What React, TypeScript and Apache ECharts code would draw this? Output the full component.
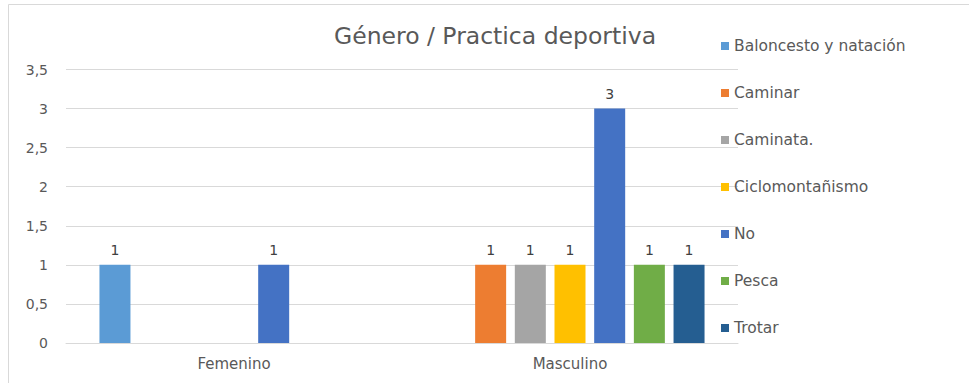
import React, { useEffect, useRef } from "react";
import * as echarts from "echarts";

const categories = ["Femenino", "Masculino"];
const seriesNames = [
  "Baloncesto y natación",
  "Caminar",
  "Caminata.",
  "Ciclomontañismo",
  "No",
  "Pesca",
  "Trotar",
];
const baloncesto = [1, null];
const caminar = [null, 1];
const caminata = [null, 1];
const ciclomontanismo = [null, 1];
const no = [1, 3];
const pesca = [null, 1];
const trotar = [null, 1];
const seriesValues = [baloncesto, caminar, caminata, ciclomontanismo, no, pesca, trotar];
const colors = ["#5B9BD5", "#ED7D31", "#A5A5A5", "#FFC000", "#4472C4", "#70AD47", "#255E91"];
const yTicks = [0, 0.5, 1, 1.5, 2, 2.5, 3, 3.5];

const FONT = "'DejaVu Sans', 'Open Sans', sans-serif";

export default function App() {
  const ref = useRef<HTMLDivElement>(null);
  useEffect(() => {
    if (!ref.current) return;
    const chart = echarts.init(ref.current, undefined, { renderer: "svg" });
    chart.setOption({
      animation: false,
      color: colors,
      textStyle: { fontFamily: FONT },
      title: {
        text: "Género / Practica deportiva",
        left: 490,
        top: 19,
        textAlign: "center",
        textStyle: { fontFamily: FONT, fontSize: 23.5, fontWeight: "normal", color: "#595959" },
      },
      graphic: [
        {
          type: "rect",
          shape: { x: 8.5, y: 4.5, width: 980, height: 400 },
          style: { fill: "none", stroke: "#D9D9D9", lineWidth: 1 },
          silent: true,
          z: -1,
        },
      ],
      legend: {
        orient: "vertical",
        left: 716,
        top: 33,
        itemWidth: 8,
        itemHeight: 8,
        itemGap: 31,
        icon: "rect",
        data: seriesNames,
        textStyle: { fontFamily: FONT, fontSize: 15.5, color: "#595959", padding: [0, 0, 0, 0] },
      },
      grid: { left: 66, right: 231, top: 69.5, bottom: 40 },
      xAxis: {
        type: "category",
        data: categories,
        axisLine: { lineStyle: { color: "#D9D9D9" } },
        axisTick: { show: false },
        axisLabel: { color: "#595959", fontSize: 15, margin: 13, fontFamily: FONT },
      },
      yAxis: {
        type: "value",
        min: yTicks[0],
        max: yTicks[yTicks.length - 1],
        interval: 0.5,
        axisLine: { show: false },
        axisTick: { show: false },
        splitLine: { lineStyle: { color: "#D9D9D9" } },
        axisLabel: {
          color: "#595959",
          fontSize: 14,
          margin: 18,
          fontFamily: FONT,
          formatter: (v: number) => String(v).replace(".", ","),
        },
      },
      series: seriesNames.map((name, i) => ({
        name,
        type: "bar",
        data: seriesValues[i],
        barWidth: 31,
        barGap: "28%",
        label: {
          show: true,
          position: "top",
          distance: 8,
          color: "#404040",
          fontSize: 14,
          fontFamily: FONT,
        },
      })),
    });
    return () => chart.dispose();
  }, []);
  return (
    <div
      ref={ref}
      style={{ position: "fixed", left: 0, top: 0, width: 969, height: 383, background: "#fff" }}
    />
  );
}
